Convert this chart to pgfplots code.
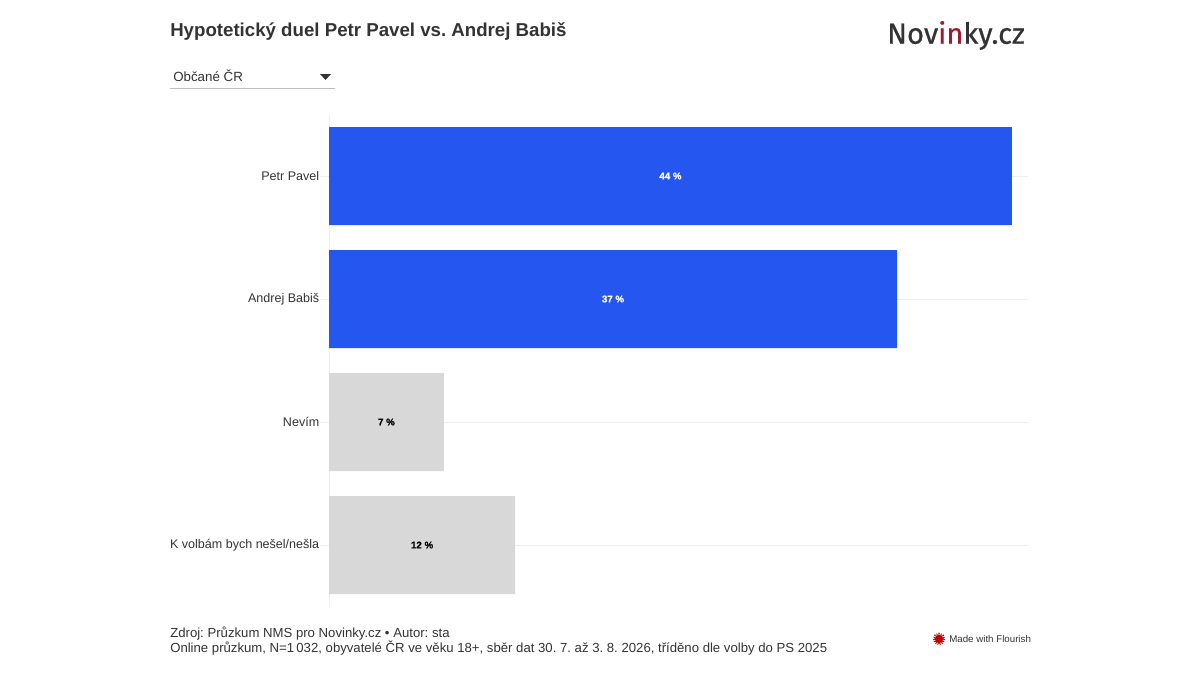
\documentclass[border=0pt]{standalone}
\usepackage{fontspec}
\usepackage{pgfplots}
\pgfplotsset{compat=1.18}
\setmainfont{Liberation Sans}
\newfontfamily\logofont[FakeBold=0.6]{Fira Sans}
\newfontfamily\valuefont[FakeBold=0.5]{Liberation Sans Bold}
\definecolor{barblue}{HTML}{2656F0}
\definecolor{bargray}{HTML}{D8D8D8}
\definecolor{gridcol}{HTML}{EEEEEE}
\definecolor{textcol}{HTML}{333333}
\definecolor{logored}{HTML}{9E1B32}
\frenchspacing

\begin{document}
\begin{tikzpicture}[x=0.75pt,y=-0.75pt]
\path[use as bounding box] (0,0) rectangle (1200,675);
\coordinate (plotorigin) at (329,607);

\begin{axis}[
    at={(plotorigin)}, anchor=south west,
    scale only axis, width=524.25pt, height=369.75pt,
    y dir=reverse,
    xmin=0, xmax=45.04,
    ymin=-0.504, ymax=3.504,
    axis x line=none,
    axis y line*=left,
    axis line style={draw=gridcol,-},
    ytick={0,1,2,3},
    yticklabels={Petr Pavel,Andrej Babiš,Nevím,K volbám bych nešel/nešla},
    yticklabel style={font=\fontsize{9.4}{11}\selectfont,text=textcol,inner sep=0.4pt},
    major tick length=6.75pt,
    tick style={draw=gridcol},
    tick pos=lower,
    ymajorgrids,
    grid style={draw=gridcol},
    xbar, bar shift=0pt, bar width=73.5pt,
    clip=false,
]
\addplot[draw=none, fill=barblue] coordinates {(44,0) (36.6,1)};
\addplot[draw=none, fill=bargray] coordinates {(7.4,2) (12,3)};
% value labels sit at the middle of each bar
\addplot[draw=none, mark=none, forget plot, xbar=0pt, fill=none,
    point meta=explicit symbolic,
    nodes near coords, nodes near coords align={anchor=center},
    every node near coord/.style={font=\valuefont\fontsize{7.3}{8}\selectfont, text=white}]
    coordinates {(22,0)[44 \%] (18.3,1)[37 \%]};
\addplot[draw=none, mark=none, forget plot, xbar=0pt, fill=none,
    point meta=explicit symbolic,
    nodes near coords, nodes near coords align={anchor=center},
    every node near coord/.style={font=\valuefont\fontsize{7.3}{8}\selectfont, text=black}]
    coordinates {(3.7,2)[7 \%] (6,3)[12 \%]};
\end{axis}

\node[anchor=west, inner sep=0pt, text=textcol, font=\fontsize{14}{17}\selectfont\bfseries] at (170,31) {Hypotetický duel Petr Pavel vs. Andrej Babiš};

% dropdown
\node[anchor=west, inner sep=0pt, text=textcol, font=\fontsize{10}{12}\selectfont] at (173,76) {Občané ČR};
\fill[textcol] (320,74) -- (331,74) -- (325.5,80) -- cycle;
\draw[draw=black!25, line width=0.6pt] (170,88.5) -- (335,88.5);

% logo
\node[anchor=east, text=textcol, inner sep=0pt, font=\logofont\fontsize{21.8}{26}\selectfont] at (1025,35.5)
    {Nov\textcolor{logored}{in}ky.cz};

% footer
\node[anchor=west, text=textcol, font=\fontsize{9.87}{12}\selectfont, inner sep=0pt] at (170,634) {Zdroj: Průzkum NMS pro Novinky.cz • Autor: sta};
\node[anchor=west, text=textcol, font=\fontsize{9.87}{12}\selectfont, inner sep=0pt] at (170,648.5) {Online průzkum, N=1\,032, obyvatelé ČR ve věku 18+, sběr dat 30. 7. až 3. 8. 2026, tříděno dle volby do PS 2025};

% flourish mark
\fill[red!75!black] (939,639) circle (4.2);
\draw[red!75!black, line width=1.6pt, dash pattern=on 0.7pt off 0.9pt] (939,639) circle (5.2);
\node[anchor=west, inner sep=0pt, text=textcol, font=\fontsize{7.3}{9}\selectfont] at (949,639.5) {Made with Flourish};
\end{tikzpicture}
\end{document}
